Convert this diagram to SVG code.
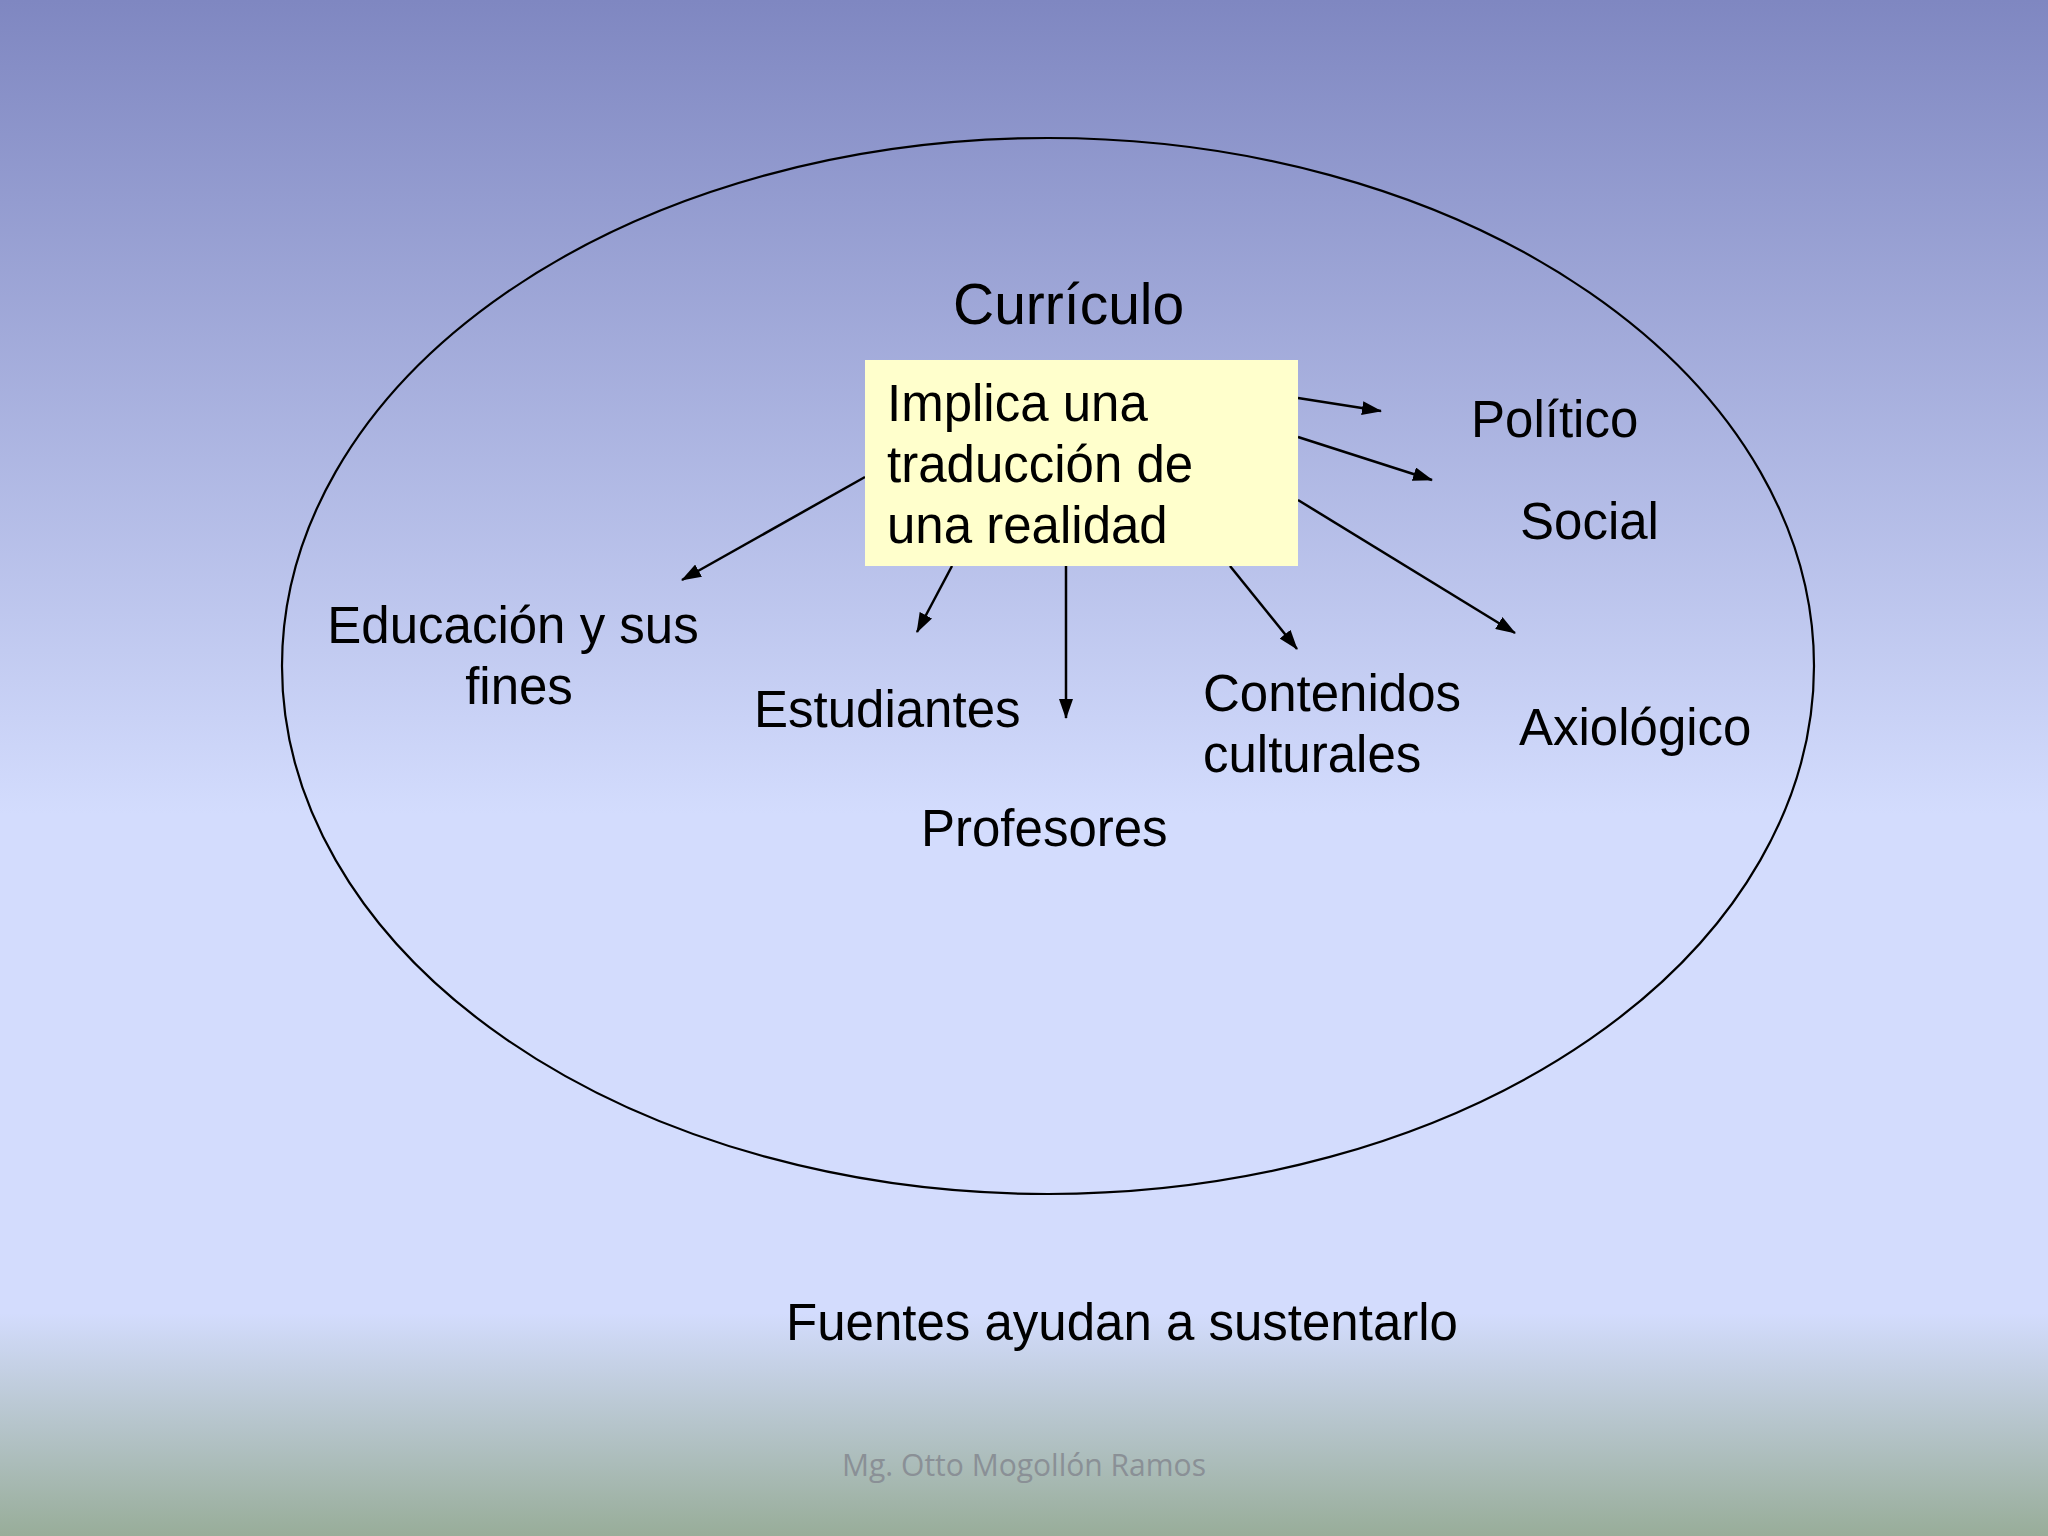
<svg xmlns="http://www.w3.org/2000/svg" width="2048" height="1536" viewBox="0 0 2048 1536">
  <defs>
    <linearGradient id="bg" x1="0" y1="0" x2="0" y2="1">
      <stop offset="0" stop-color="#7F87C1"/>
      <stop offset="0.53" stop-color="#D3DCFD"/>
      <stop offset="0.855" stop-color="#D3DCFD"/>
      <stop offset="1" stop-color="#98AD99"/>
    </linearGradient>
    <marker id="arrow" markerWidth="10" markerHeight="8" refX="9.5" refY="4" orient="auto" markerUnits="userSpaceOnUse" viewBox="0 0 10 8">
      <path d="M0,0 L10,4 L0,8 Z" fill="#000"/>
    </marker>
    <marker id="ah" viewBox="0 0 20 14" refX="19" refY="7" markerWidth="20" markerHeight="14" orient="auto" markerUnits="userSpaceOnUse">
      <path d="M0,0 L20,7 L0,14 Z" fill="#000"/>
    </marker>
  </defs>
  <style>
    .t { font-family: "Liberation Sans", Arial, sans-serif; font-size: 51px; fill: #000; }
    .c { stroke: #000; stroke-width: 2.5; fill: none; marker-end: url(#ah); }
  </style>
  <rect x="0" y="0" width="2048" height="1536" fill="url(#bg)"/>

  <g id="ellipse">
    <ellipse cx="1048" cy="666" rx="766" ry="528" fill="none" stroke="#000" stroke-width="2.2"/>
  </g>

  <g id="connectors">
    <line class="c" x1="865" y1="477" x2="682" y2="580"/>
    <line class="c" x1="952" y1="566" x2="917" y2="632"/>
    <line class="c" x1="1066" y1="566" x2="1066" y2="718"/>
    <line class="c" x1="1230" y1="566" x2="1297" y2="649"/>
    <line class="c" x1="1298" y1="500" x2="1515" y2="633"/>
    <line class="c" x1="1298" y1="437" x2="1432" y2="480"/>
    <line class="c" x1="1298" y1="398" x2="1381" y2="411"/>
  </g>

  <g id="curriculo">
    <text class="t" x="953" y="324" style="font-size:57px">Currículo</text>
  </g>

  <g id="implica">
    <rect x="865" y="360" width="433" height="206" fill="#FFFFCC"/>
    <text class="t" x="887" y="421">Implica una</text>
    <text class="t" x="887" y="482">traducción de</text>
    <text class="t" x="887" y="543">una realidad</text>
  </g>

  <g id="politico"><text class="t" x="1471" y="437">Político</text></g>
  <g id="social"><text class="t" x="1520" y="539">Social</text></g>
  <g id="educacion">
    <text class="t" x="513" y="643" text-anchor="middle">Educación y sus</text>
    <text class="t" x="519" y="704" text-anchor="middle">fines</text>
  </g>
  <g id="estudiantes"><text class="t" x="754" y="727">Estudiantes</text></g>
  <g id="profesores"><text class="t" x="921" y="846">Profesores</text></g>
  <g id="contenidos">
    <text class="t" x="1203" y="711">Contenidos</text>
    <text class="t" x="1203" y="772">culturales</text>
  </g>
  <g id="axiologico"><text class="t" x="1519" y="745">Axiológico</text></g>

  <g id="fuentes"><text class="t" x="786" y="1340">Fuentes ayudan a sustentarlo</text></g>

  <g id="footer">
    <text x="842" y="1476" font-family="'Open Sans', 'Liberation Sans', sans-serif" font-size="31" fill="#8A9096" textLength="364" lengthAdjust="spacingAndGlyphs">Mg. Otto Mogollón Ramos</text>
  </g>
</svg>
